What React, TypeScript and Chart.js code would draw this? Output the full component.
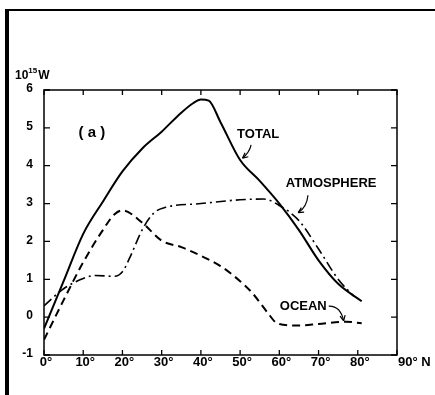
import React, { useEffect, useRef } from "react";
import { Chart, registerables } from "chart.js";
Chart.register(...registerables);

const totalLat = [0, 5, 10, 15, 20, 25, 30, 35, 38, 40, 42, 45, 50, 55, 60, 65, 70, 75, 81];
const totalVal = [-0.3, 0.95, 2.2, 3.05, 3.85, 4.45, 4.9, 5.4, 5.65, 5.75, 5.72, 5.15, 4.15, 3.6, 3.0, 2.3, 1.5, 0.88, 0.42];

const atmoLat = [0, 5, 10, 13, 18, 20, 22, 25, 28, 31, 40, 50, 56, 60, 65, 70, 75, 79];
const atmoVal = [0.3, 0.75, 1.02, 1.1, 1.08, 1.2, 1.6, 2.3, 2.75, 2.9, 3.0, 3.1, 3.12, 2.95, 2.55, 1.8, 1.0, 0.55];

const oceanLat = [0, 5, 10, 15, 18, 20, 25, 30, 35, 40, 45, 50, 53, 57, 59, 61, 65, 70, 77, 81];
const oceanVal = [-0.6, 0.45, 1.45, 2.3, 2.72, 2.82, 2.5, 2.02, 1.85, 1.62, 1.35, 0.95, 0.65, 0.12, -0.13, -0.2, -0.22, -0.18, -0.12, -0.16];

const xTickVals = [0, 10, 20, 30, 40, 50, 60, 70, 80, 90];
const xTickLabels = ["0°", "10°", "20°", "30°", "40°", "50°", "60°", "70°", "80°", "90° N"];
const yTickVals = [-1, 0, 1, 2, 3, 4, 5, 6];
const yTickLabels = ["-1", "0", "1", "2", "3", "4", "5", "6"];

const pts = (xs: number[], ys: number[]) => xs.map((x, i) => ({ x, y: ys[i] }));

const FONT = '"Liberation Sans", Arial, sans-serif';

const overlay = {
  id: "overlay",
  afterDraw(chart: any) {
    const ctx = chart.ctx as CanvasRenderingContext2D;
    const xs = chart.scales.x;
    const ys = chart.scales.y;
    const a = chart.chartArea;
    const px = (v: number) => xs.getPixelForValue(v);
    const py = (v: number) => ys.getPixelForValue(v);
    ctx.save();
    // page frame
    ctx.fillStyle = "#000";
    ctx.fillRect(5, 9, 4, 395 - 9);
    ctx.fillRect(5, 9, 430, 2);
    // plot box
    ctx.strokeStyle = "#000";
    ctx.lineWidth = 1.5;
    ctx.strokeRect(a.left, a.top, a.right - a.left, a.bottom - a.top);
    // inward ticks
    ctx.lineWidth = 1.3;
    ctx.beginPath();
    yTickVals.forEach((v) => {
      const y = py(v);
      ctx.moveTo(a.left, y); ctx.lineTo(a.left + 6, y);
      ctx.moveTo(a.right, y); ctx.lineTo(a.right - 6, y);
    });
    xTickVals.forEach((v) => {
      const x = px(v);
      ctx.moveTo(x, a.bottom); ctx.lineTo(x, a.bottom - 5);
      ctx.moveTo(x, a.top); ctx.lineTo(x, a.top + 5);
    });
    ctx.stroke();
    // tick labels
    ctx.fillStyle = "#000";
    ctx.font = `600 13px ${FONT}`;
    ctx.textBaseline = "top";
    xTickVals.forEach((v, i) => {
      const x = px(v);
      if (i === xTickVals.length - 1) {
        ctx.textAlign = "left";
        ctx.fillText(xTickLabels[i], x + 1, a.bottom + 1);
      } else {
        ctx.textAlign = "center";
        ctx.fillText(xTickLabels[i], x + 2, a.bottom + 1);
      }
    });
    ctx.font = `bold 12px ${FONT}`;
    ctx.textAlign = "right";
    ctx.textBaseline = "middle";
    yTickVals.forEach((v, i) => {
      ctx.fillText(yTickLabels[i], a.left - 11, py(v) - 1);
    });
    // unit label
    ctx.textAlign = "left";
    ctx.textBaseline = "alphabetic";
    ctx.font = `600 12px ${FONT}`;
    ctx.fillText("10", 15, 79);
    const w10 = ctx.measureText("10").width;
    ctx.font = `600 8px ${FONT}`;
    ctx.fillText("15", 15 + w10, 73);
    const w15 = ctx.measureText("15").width;
    ctx.font = `600 12px ${FONT}`;
    ctx.fillText("W", 15 + w10 + w15 + 1, 79);
    // annotations
    ctx.textAlign = "center";
    ctx.textBaseline = "middle";
    ctx.font = `600 15px ${FONT}`;
    ctx.fillText("( a )", px(12.2), py(4.87));
    ctx.font = `600 13px ${FONT}`;
    ctx.fillText("TOTAL", px(54.6), py(4.82));
    ctx.fillText("ATMOSPHERE", px(73.2), py(3.53));
    ctx.fillText("OCEAN", px(66.1), py(0.29));
    const arrow = (x0: number, y0: number, cx: number, cy: number, x1: number, y1: number) => {
      const X0 = px(x0), Y0 = py(y0), CX = px(cx), CY = py(cy), X1 = px(x1), Y1 = py(y1);
      ctx.lineWidth = 1.2;
      ctx.beginPath();
      ctx.moveTo(X0, Y0);
      ctx.quadraticCurveTo(CX, CY, X1, Y1);
      ctx.stroke();
      const ang = Math.atan2(Y1 - CY, X1 - CX);
      ctx.beginPath();
      ctx.moveTo(X1, Y1);
      ctx.lineTo(X1 - 6 * Math.cos(ang - 0.45), Y1 - 6 * Math.sin(ang - 0.45));
      ctx.moveTo(X1, Y1);
      ctx.lineTo(X1 - 6 * Math.cos(ang + 0.45), Y1 - 6 * Math.sin(ang + 0.45));
      ctx.stroke();
    };
    arrow(52.8, 4.55, 52.4, 4.35, 50.6, 4.2);
    arrow(67.3, 3.22, 67.0, 2.9, 64.8, 2.76);
    arrow(72.6, 0.29, 75.6, 0.3, 76.4, -0.1);
    ctx.restore();
  },
};

export default function App() {
  const ref = useRef<HTMLCanvasElement>(null);
  useEffect(() => {
    const chart = new Chart(ref.current!, {
      type: "line",
      data: {
        datasets: [
          {
            label: "TOTAL",
            data: pts(totalLat, totalVal),
            borderColor: "#000",
            borderWidth: 2,
            pointRadius: 0,
            cubicInterpolationMode: "monotone",
            fill: false,
          },
          {
            label: "ATMOSPHERE",
            data: pts(atmoLat, atmoVal),
            borderColor: "#000",
            borderWidth: 1.6,
            borderDash: [10, 4, 2, 4],
            pointRadius: 0,
            cubicInterpolationMode: "monotone",
            fill: false,
          },
          {
            label: "OCEAN",
            data: pts(oceanLat, oceanVal),
            borderColor: "#000",
            borderWidth: 2,
            borderDash: [8, 5],
            pointRadius: 0,
            cubicInterpolationMode: "monotone",
            fill: false,
          },
        ],
      },
      options: {
        animation: false,
        responsive: false,
        events: [],
        layout: { padding: { left: 0, top: 90, right: 38, bottom: 0 } },
        plugins: { legend: { display: false }, tooltip: { enabled: false } },
        scales: {
          x: {
            type: "linear",
            min: 0,
            max: 90,
            ticks: { display: false },
            grid: { display: false },
            border: { display: false },
            afterFit: (s: any) => { s.height = 40; },
          },
          y: {
            type: "linear",
            min: -1,
            max: 6,
            ticks: { display: false },
            grid: { display: false },
            border: { display: false },
            afterFit: (s: any) => { s.width = 44; },
          },
        },
      },
      plugins: [overlay],
    } as any);
    return () => chart.destroy();
  }, []);
  return (
    <div style={{ position: "fixed", left: 0, top: 0, width: 435, height: 395, background: "#fff" }}>
      <canvas ref={ref} width={435} height={395} style={{ display: "block" }} />
    </div>
  );
}
